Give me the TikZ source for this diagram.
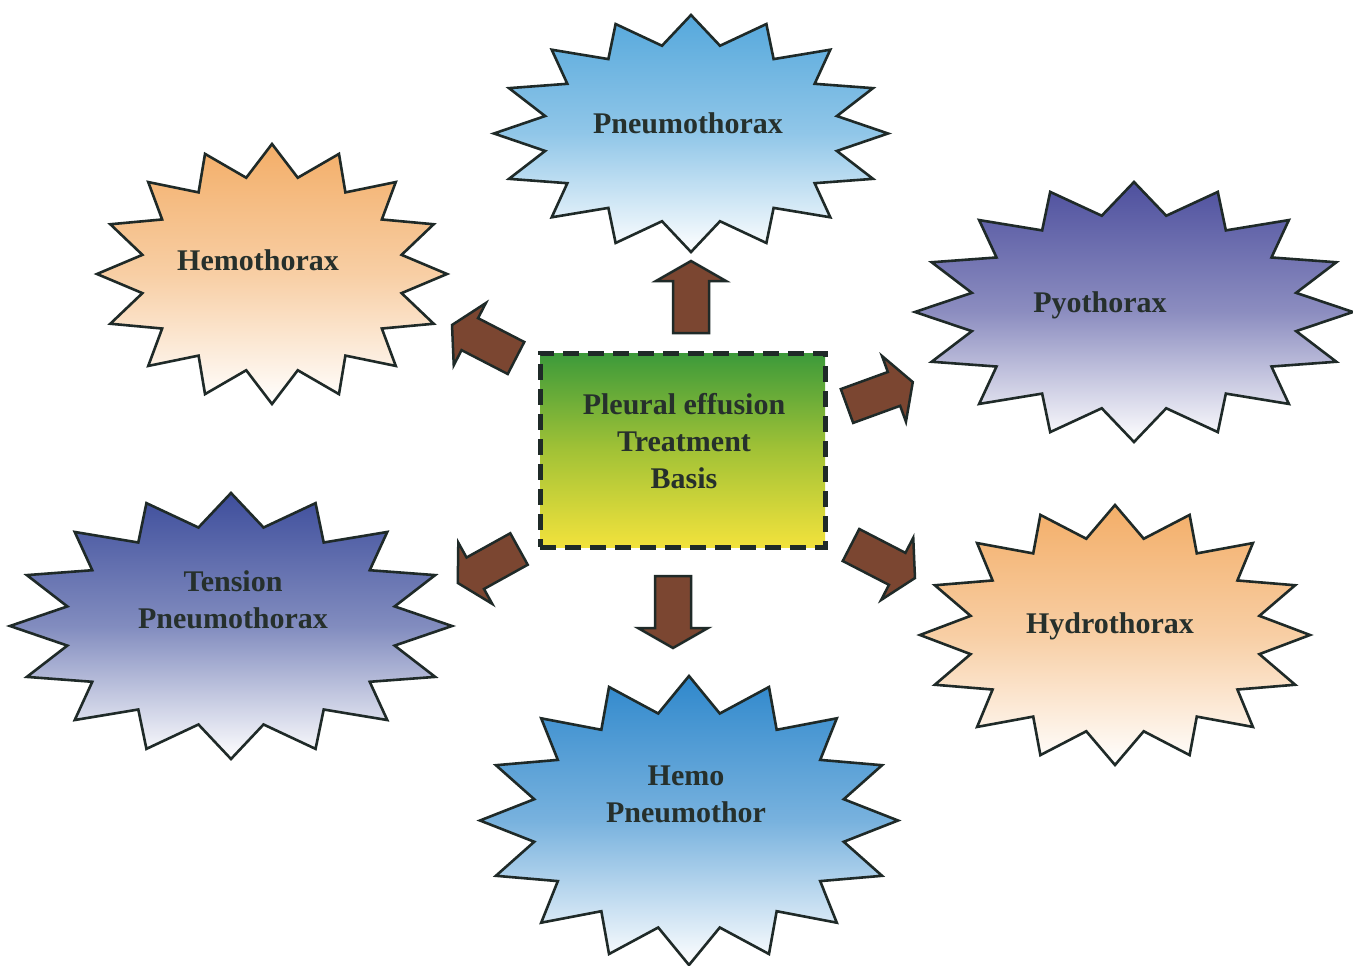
\documentclass[tikz,border=0pt]{standalone}
\usepackage{fontspec}
\setmainfont{Liberation Serif}
\definecolor{ink}{HTML}{1F2A28}
\definecolor{txt}{HTML}{26302C}
\definecolor{brownarrow}{HTML}{7B4631}
\definecolor{skyA}{HTML}{55A8DC}
\definecolor{skyB}{HTML}{2F88CC}
\definecolor{orangeA}{HTML}{F3AE68}
\definecolor{indigoA}{HTML}{4E509E}
\definecolor{indigoB}{HTML}{3E4E9C}
\definecolor{greenA}{HTML}{3C9A3A}
\definecolor{yellowA}{HTML}{F2E23C}
\definecolor{ygA}{HTML}{A2C236}
\tikzset{
  burst/.style={draw=ink, line width=2.6pt, line join=miter},
  labeltext/.style={font=\bfseries\fontsize{30}{37}\selectfont, text=txt, align=center, inner sep=0pt},
  blockarrow/.style={fill=brownarrow, draw=ink, line width=2.5pt, line join=miter},
  centerbox/.style={draw=ink, line width=5pt, dash pattern=on 16pt off 9pt,
    top color=greenA, bottom color=yellowA, middle color=ygA,
    minimum width=285pt, minimum height=194pt, inner sep=0pt},
}
\newcommand\starburst[6]{%
  \begin{scope}[shift={(#1,#2)}]
    \draw[burst, top color=#5, bottom color=white, middle color=#6]
      (90:#3 and #4) \foreach \k in {1,...,16}{
        -- ({90+\k*22.5-11.25}:{0.755*#3} and {0.755*#4})
        -- ({90+\k*22.5}:#3 and #4)} -- cycle;
  \end{scope}}
\newcommand\blockarr[4]{%
  \begin{scope}[shift={(#1,#2)}, rotate=#3]
    \draw[blockarrow] (0,-18) -- ({#4-20},-18) -- ({#4-20},-35) -- (#4,0)
      -- ({#4-20},35) -- ({#4-20},18) -- (0,18) -- cycle;
  \end{scope}}
\begin{document}
\begin{tikzpicture}[x=1pt,y=-1pt]
  \path[use as bounding box, fill=white] (0,0) rectangle (1353,966);

  % star bursts
  \starburst{691}{133.5}{197}{118.5}{skyA}{skyA!65!white}
  \starburst{272}{274}{175}{130}{orangeA}{orangeA!60!white}
  \starburst{1134}{312}{219}{130}{indigoA}{indigoA!65!white}
  \starburst{231}{626}{221}{133}{indigoB}{indigoB!65!white}
  \starburst{1115}{635}{195}{130}{orangeA}{orangeA!60!white}
  \starburst{689}{820.5}{209}{144.5}{skyB}{skyB!65!white}

  \node[labeltext] (pneumo) at (688,123) {Pneumothorax};
  \node[labeltext] (hemo) at (258,260) {Hemothorax};
  \node[labeltext] (pyo) at (1100,305) {Pyothorax};
  \node[labeltext] (tension) at (233,600) {Tension\\Pneumothorax};
  \node[labeltext] (hydro) at (1110,626) {Hydrothorax};
  \node[labeltext] (hemopneumo) at (686,794) {Hemo\\Pneumothor};

  % centre box
  \node[centerbox] (center) at (682.5,450) {};
  \node[labeltext] (centertext) at (684,441) {Pleural effusion\\Treatment\\Basis};

  % block arrows
  \blockarr{691}{333}{90}{72}
  \blockarr{673}{576}{-90}{72}
  \blockarr{516}{358}{152.7}{72}
  \blockarr{847}{406}{20}{70}
  \blockarr{519}{549}{209}{70}
  \blockarr{851}{545}{-27.3}{72}
\end{tikzpicture}
\end{document}
